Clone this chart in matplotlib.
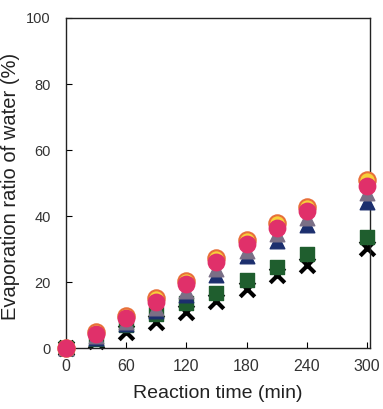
import matplotlib
matplotlib.use("Agg")
import matplotlib.pyplot as plt

plt.rcParams['font.family'] = ['Liberation Sans', 'DejaVu Sans']

time_min = [0, 30, 60, 90, 120, 150, 180, 210, 240, 300]

yellow = [0, 4.8, 9.8, 15.2, 20.2, 27.2, 32.8, 37.8, 42.8, 51.0]
pink = [0, 4.2, 9.0, 14.0, 19.5, 26.0, 31.5, 36.5, 41.5, 49.0]
gray = [0, 3.6, 8.0, 12.2, 17.2, 24.0, 29.5, 34.5, 39.5, 47.0]
navy = [0, 3.0, 7.2, 11.2, 16.2, 22.2, 28.0, 32.5, 37.2, 44.2]
green = [0, 2.6, 7.0, 10.2, 13.6, 16.6, 20.6, 24.6, 28.6, 33.6]
black_x = [0, 2.0, 5.0, 8.0, 11.0, 14.2, 18.0, 22.0, 25.2, 30.4]

fig = plt.figure(figsize=(3.83, 4.09), dpi=100)
ax = fig.add_axes([0.172, 0.149, 0.794, 0.807])

kw = dict(clip_on=False)
ax.scatter(time_min, black_x, marker='x', s=110, color='black', linewidths=3, zorder=2, **kw)
ax.scatter(time_min, green, marker='s', s=95, color='#1f5e2e', zorder=3, **kw)
ax.scatter(time_min, navy, marker='^', s=110, color='#1c2f6e', zorder=4, **kw)
ax.scatter(time_min, gray, marker='^', s=110, color='#7a6f86', zorder=5, **kw)
ax.scatter(time_min, yellow, marker='o', s=140, color='#f7d13a', edgecolors='#e8703a', linewidths=1.5, zorder=5.2, **kw)
ax.scatter(time_min, pink, marker='o', s=140, color='#e0306a', zorder=6, **kw)

ax.set_xlim(0, 303)
ax.set_ylim(0, 100)
ax.set_xticks([0, 60, 120, 180, 240, 300])
ax.set_yticks([0, 20, 40, 60, 80, 100])
ax.tick_params(axis='y', direction='in', length=4, labelsize=10.5, labelcolor='#333333', pad=11)
ax.tick_params(axis='x', direction='in', length=4, labelsize=11.5, labelcolor='#333333', pad=8)
for sp in ax.spines.values():
    sp.set_linewidth(1.0)
    sp.set_color('#222222')

ax.set_xlabel('Reaction time (min)', fontsize=14, color='#222222', labelpad=8)
ax.set_ylabel('Evaporation ratio of water (%)', fontsize=14.5, color='#222222')
ax.yaxis.set_label_coords(-0.15, 0.49)

fig.savefig('out.png', dpi=100)
